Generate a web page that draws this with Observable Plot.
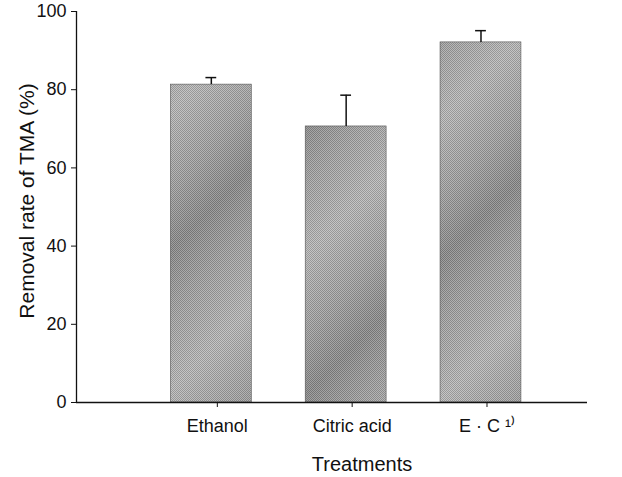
<!DOCTYPE html>
<html>
<head>
<meta charset="utf-8">
<script src="https://cdn.jsdelivr.net/npm/d3@7"></script>
<script src="https://cdn.jsdelivr.net/npm/@observablehq/plot@0.6"></script>
<style>
  html, body { margin: 0; padding: 0; background: #fff; }
  svg { font-family: "Liberation Sans", Arial, sans-serif; }
</style>
</head>
<body>
<div id="chart"></div>
<script>
const categories = ["Ethanol", "Citric acid", "E · C"];
const tickLabels = ["Ethanol", "Citric acid", "E · C ¹⁾"];
const values = [81.3, 70.6, 92.1];
const errors = [1.8, 8.0, 3.0];
const yTicks = [0, 20, 40, 60, 80, 100];
const yLabel = "Removal rate of TMA (%)";
const xLabel = "Treatments";

const data = categories.map((c, i) => ({
  cat: c, pos: i + 1, value: values[i], err: errors[i]
}));

const halfW = 0.3;
const capW = 0.04;

const svg = Plot.plot({
  width: 622,
  height: 477,
  marginLeft: 76,
  marginRight: 35,
  marginTop: 11,
  marginBottom: 75,
  style: { fontFamily: "Liberation Sans, Arial, sans-serif", background: "#fff", overflow: "visible" },
  x: { domain: [0, 3.79] },
  y: { domain: [0, 100] },
  marks: [
    Plot.rectY(data, { x1: d => d.pos - halfW, x2: d => d.pos + halfW, y1: 0, y2: "value", fill: "url(#stripes)" }),
    Plot.rectY(data, { x1: d => d.pos - halfW, x2: d => d.pos + halfW, y1: 0, y2: "value", fill: "url(#dither)", stroke: "#555", strokeWidth: 0.6 }),
    Plot.ruleX(data, { x: "pos", y1: "value", y2: d => d.value + d.err, stroke: "#111", strokeWidth: 1.5 }),
    Plot.ruleY(data, { y: d => d.value + d.err, x1: d => d.pos - capW, x2: d => d.pos + capW, stroke: "#111", strokeWidth: 1.5 }),
    Plot.ruleX([0], { stroke: "#111", strokeWidth: 1.3 }),
    Plot.ruleY([0], { stroke: "#111", strokeWidth: 1.3 }),
    Plot.axisY({
      ticks: yTicks, tickSize: 5, tickPadding: 5, fontSize: 18,
      label: null, color: "#111"
    }),
    Plot.axisX({
      ticks: data.map(d => d.pos),
      tickFormat: (p) => tickLabels[p - 1],
      tickSize: 5, tickPadding: 12, fontSize: 18, dx: 6,
      label: null, color: "#111"
    }),
    Plot.text([yLabel], { frameAnchor: "left", rotate: -90, textAnchor: "middle", lineAnchor: "middle", dx: -49, dy: -6, fontSize: 21, fill: "#111" }),
    Plot.text([xLabel], { frameAnchor: "bottom", lineAnchor: "top", dy: 54, dx: 30, fontSize: 20, fill: "#111" })
  ]
});

// bar texture definitions
const defs = d3.select(svg).insert("defs", ":first-child");
const grad = defs.append("linearGradient")
  .attr("id", "stripes")
  .attr("gradientUnits", "userSpaceOnUse")
  .attr("x1", 0).attr("y1", 0).attr("x2", 70).attr("y2", 70)
  .attr("spreadMethod", "reflect");
grad.append("stop").attr("offset", "0%").attr("stop-color", "#bcbcbc");
grad.append("stop").attr("offset", "55%").attr("stop-color", "#a6a6a6");
grad.append("stop").attr("offset", "100%").attr("stop-color", "#8e8e8e");
const pat = defs.append("pattern")
  .attr("id", "dither")
  .attr("patternUnits", "userSpaceOnUse")
  .attr("width", 2).attr("height", 2);
pat.append("rect").attr("x", 0).attr("y", 0).attr("width", 1).attr("height", 1).attr("fill", "rgba(0,0,0,0.18)");
pat.append("rect").attr("x", 1).attr("y", 1).attr("width", 1).attr("height", 1).attr("fill", "rgba(0,0,0,0.18)");
pat.append("rect").attr("x", 1).attr("y", 0).attr("width", 1).attr("height", 1).attr("fill", "rgba(255,255,255,0.15)");
pat.append("rect").attr("x", 0).attr("y", 1).attr("width", 1).attr("height", 1).attr("fill", "rgba(255,255,255,0.15)");

document.getElementById("chart").appendChild(svg);
</script>
</body>
</html>
